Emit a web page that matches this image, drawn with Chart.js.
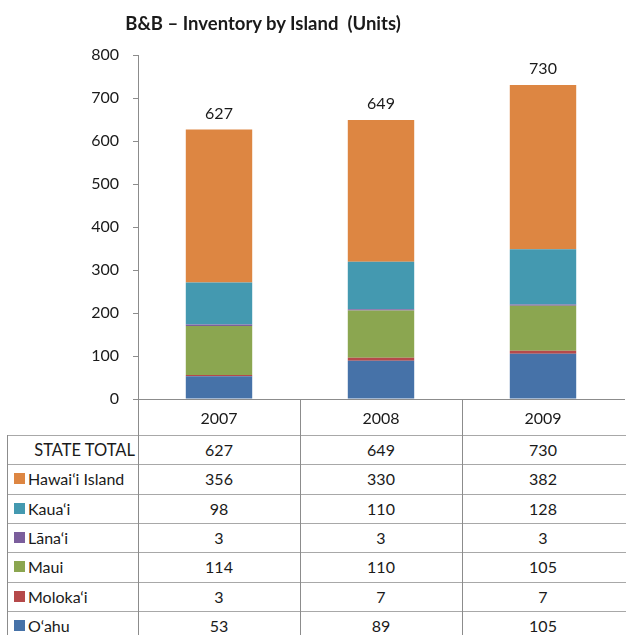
<!DOCTYPE html>
<html><head><meta charset="utf-8">
<script src="https://cdn.jsdelivr.net/npm/chart.js@4"></script>
<style>
html,body{margin:0;padding:0;background:#fff;}
#wrap{position:relative;width:626px;height:635px;overflow:hidden;font-family:Lato,'Open Sans',sans-serif;color:#1a1a1a;}
#title{position:absolute;left:0;width:526px;top:11px;text-align:center;font-weight:bold;font-size:18.5px;line-height:24px;z-index:2;}
#cbox{position:absolute;left:0;top:0;width:626px;height:435px;}
.cell{position:absolute;box-sizing:border-box;font-size:16px;text-align:center;white-space:nowrap;display:flex;align-items:center;}
.hl{position:absolute;height:1px;background:#a8a8a8;}
.vl{position:absolute;width:1px;background:#8c8c8c;}
.sw{display:inline-block;width:11px;height:11px;margin-right:3px;}
</style></head>
<body>
<div id="wrap">
  <div id="cbox"><canvas id="c"></canvas></div>
  <div id="title">B&amp;B – Inventory by Island&nbsp; (Units)</div>
  <div id="tbl"></div>
</div>
<script>
const categories = ['2007', '2008', '2009'];
const stateTotal = [627, 649, 730];
const hawaii  = [356, 330, 382];
const kauai   = [98, 110, 128];
const lanai   = [3, 3, 3];
const maui    = [114, 110, 105];
const molokai = [3, 7, 7];
const oahu    = [53, 89, 105];
const yMin = 0, yMax = 800, yStep = 100;

const FONT = 'Lato, "Open Sans", sans-serif';
const TXT = '#1a1a1a';
const GRID = '#8c8c8c';

// stacked bottom -> top
const series = [
  { label: 'O‘ahu',          data: oahu,    color: '#4672A8' },
  { label: 'Moloka‘i',       data: molokai, color: '#B5494A' },
  { label: 'Maui',           data: maui,    color: '#8BA650' },
  { label: 'Lāna‘i',         data: lanai,   color: '#7B5E9C' },
  { label: 'Kaua‘i',         data: kauai,   color: '#4499B0' },
  { label: 'Hawai‘i Island', data: hawaii,  color: '#DD8642' }
];

const totalLabels = {
  id: 'totalLabels',
  afterDatasetsDraw(chart) {
    const ctx = chart.ctx, xs = chart.scales.x, ys = chart.scales.y;
    ctx.save();
    ctx.font = '16px ' + FONT;
    ctx.fillStyle = TXT;
    ctx.textAlign = 'center';
    ctx.textBaseline = 'middle';
    stateTotal.forEach((v, i) => {
      ctx.fillText(String(v), xs.getPixelForValue(i), ys.getPixelForValue(v) - 16);
    });
    ctx.restore();
  }
};

const chart = new Chart(document.getElementById('c'), {
  type: 'bar',
  data: {
    labels: categories,
    datasets: series.map(s => ({
      label: s.label, data: s.data, backgroundColor: s.color,
      borderWidth: 0, categoryPercentage: 1.0, barPercentage: 0.41
    }))
  },
  options: {
    responsive: true, maintainAspectRatio: false, animation: false,
    layout: { padding: { top: 55, left: 0, right: 2, bottom: 0 } },
    plugins: { legend: { display: false }, title: { display: false }, tooltip: { enabled: false } },
    scales: {
      x: {
        stacked: true,
        grid: {
          offset: true, drawOnChartArea: false, tickLength: 36, lineWidth: 1,
          color: c => (c.tick === undefined || c.index >= categories.length) ? 'rgba(0,0,0,0)' : GRID
        },
        border: { display: true, color: GRID },
        ticks: { padding: -26, font: { size: 16, family: FONT }, color: TXT },
        afterFit(s) { s.height = 36; }
      },
      y: {
        stacked: true, min: yMin, max: yMax,
        ticks: { stepSize: yStep, padding: 14, font: { size: 16, family: FONT }, color: TXT },
        grid: { drawOnChartArea: false, tickLength: 5, color: GRID },
        border: { display: true, color: GRID },
        afterFit(s) { s.width = 138; }
      }
    }
  },
  plugins: [totalLabels]
});

// data table under the axis
const tbl = document.getElementById('tbl');
const rows = [{ label: 'STATE TOTAL', data: stateTotal, color: null }]
  .concat(series.slice().reverse());
const top0 = 435, rowH = 29.33, left0 = 7, col0W = 131, colW = 162;
rows.forEach((r, ri) => {
  const y = top0 + ri * rowH;
  const hl = document.createElement('div');
  hl.className = 'hl';
  hl.style.cssText = `left:${left0}px;top:${Math.round(y)}px;width:${626 - left0}px;`;
  tbl.appendChild(hl);
  const lc = document.createElement('div');
  lc.className = 'cell';
  lc.style.top = Math.round(y) + 'px';
  lc.style.height = Math.round(rowH) + 'px';
  if (!r.color) {
    lc.style.left = left0 + 'px'; lc.style.width = col0W + 'px';
    lc.style.justifyContent = 'flex-end'; lc.style.paddingRight = '3px';
    lc.style.fontSize = '16.5px';
    lc.textContent = r.label;
  } else {
    lc.style.left = '14px'; lc.style.width = (col0W) + 'px';
    lc.style.justifyContent = 'flex-start';
    const sw = document.createElement('span');
    sw.className = 'sw'; sw.style.background = r.color;
    lc.appendChild(sw);
    lc.appendChild(document.createTextNode(r.label));
  }
  tbl.appendChild(lc);
  r.data.forEach((v, ci) => {
    const c = document.createElement('div');
    c.className = 'cell';
    c.style.cssText += `left:${left0 + col0W + ci * colW}px;top:${Math.round(y)}px;width:${colW}px;height:${Math.round(rowH)}px;justify-content:center;`;
    c.textContent = String(v);
    tbl.appendChild(c);
  });
});
[left0, left0 + col0W, left0 + col0W + colW, left0 + col0W + 2 * colW].forEach(x => {
  const vl = document.createElement('div');
  vl.className = 'vl';
  vl.style.cssText = `left:${x}px;top:${top0}px;height:${635 - top0}px;`;
  tbl.appendChild(vl);
});
</script>
</body></html>
